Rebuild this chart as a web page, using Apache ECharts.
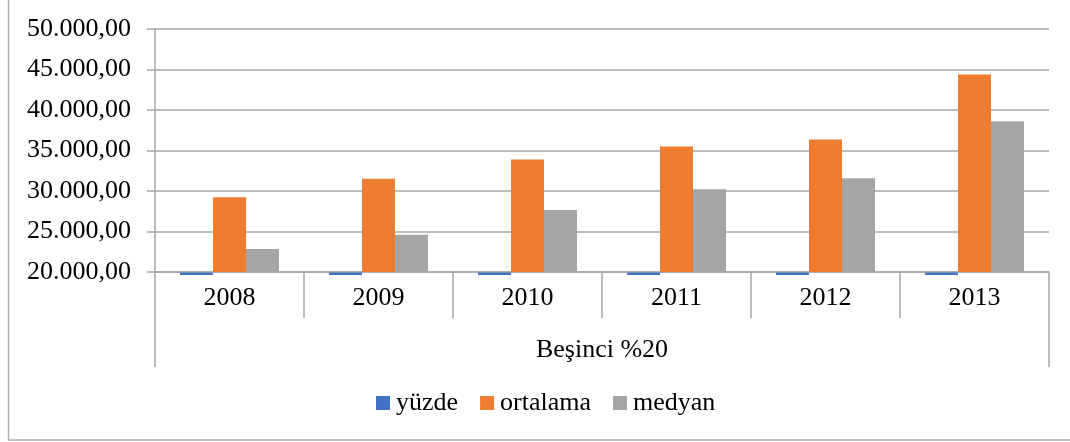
<!DOCTYPE html>
<html>
<head>
<meta charset="utf-8">
<script src="https://cdn.jsdelivr.net/npm/echarts@6/dist/echarts.min.js"></script>
<style>
  html, body { margin: 0; padding: 0; background: #fff; }
  #chart { width: 1070px; height: 442px; }
</style>
</head>
<body>
<div id="chart"></div>
<script>
var years = ['2008', '2009', '2010', '2011', '2012', '2013'];
var groupLabel = ['Beşinci %20'];
var yuzde = [20, 20, 20, 20, 20, 20];
var ortalama = [29220, 31510, 33890, 35490, 36350, 44380];
var medyan = [22830, 24590, 27660, 30210, 31560, 38600];

var font = 'Liberation Serif, Times New Roman, serif';
var lineColor = '#a6a6a6';
var yMin = 20000;

// 50.000,00 gibi biçim
function trFormat(v) {
	var s = Math.round(v).toString().replace(/\B(?=(\d{3})+(?!\d))/g, '.');
	return s + ',00';
}

var myChart = echarts.init(document.getElementById('chart'));
myChart.setOption({
	animation: false,
	color: ['#4472C4', '#ED7D31', '#A5A5A5'],
	graphic: [{
		type: 'rect',
		shape: { x: 8.5, y: -5, width: 1075, height: 445 },
		style: { fill: 'none', stroke: '#b0b0b0', lineWidth: 1.5 },
		silent: true
	}],
	grid: { left: 155, right: 21, top: 29, bottom: 170 },
	legend: {
		bottom: 21,
		left: 371,
		itemWidth: 14,
		itemHeight: 14,
		itemGap: 22,
		icon: 'rect',
		textStyle: { fontFamily: font, fontSize: 26, color: '#000', padding: [0, 0, 0, 1] },
		data: ['yüzde', 'ortalama', 'medyan']
	},
	xAxis: [{
		type: 'category',
		data: years,
		position: 'bottom',
		axisLine: { lineStyle: { color: lineColor, width: 1.5 } },
		axisTick: { show: true, interval: 0, length: 46, lineStyle: { color: lineColor, width: 1.5 } },
		axisLabel: { fontFamily: font, fontSize: 26, color: '#000', margin: 13 }
	}, {
		type: 'category',
		data: groupLabel,
		position: 'bottom',
		axisLine: { show: false },
		axisTick: { show: true, length: 95, lineStyle: { color: lineColor, width: 1.5 } },
		axisLabel: { fontFamily: font, fontSize: 26, color: '#000', margin: 65 }
	}],
	yAxis: {
		type: 'value',
		min: yMin,
		max: 50000,
		interval: 5000,
		axisLine: { show: true, lineStyle: { color: lineColor, width: 1.5 } },
		axisTick: { show: true, length: 8, lineStyle: { color: lineColor, width: 1.5 } },
		splitLine: { lineStyle: { color: lineColor, width: 1.5 } },
		axisLabel: {
			fontFamily: font, fontSize: 26, color: '#000', margin: 24,
			formatter: trFormat
		}
	},
	series: [{
		name: 'yüzde',
		type: 'bar',
		data: yuzde,
		barWidth: 33,
		barGap: '0%'
	}, {
		name: 'ortalama',
		type: 'bar',
		data: ortalama,
		barWidth: 33,
		barGap: '0%'
	}, {
		name: 'medyan',
		type: 'bar',
		data: medyan,
		barWidth: 33,
		barGap: '0%'
	}, {
		// yüzde değerleri eksen altında kalıyor: Excel gibi ince bir şerit çiz
		name: 'yüzde',
		type: 'custom',
		itemStyle: { color: '#4472C4' },
		data: yuzde.map(function (v, i) { return [i, v]; }),
		renderItem: function (params, api) {
			var cat = api.value(0);
			var base = api.coord([cat, yMin]);
			var end = api.coord([cat, api.value(1)]);
			var h = Math.min(end[1] - base[1], 2.5);
			return {
				type: 'rect',
				shape: { x: base[0] - 49.5, y: base[1] + 0.5, width: 33, height: h },
				style: { fill: api.visual('color') }
			};
		}
	}]
});
</script>
</body>
</html>
